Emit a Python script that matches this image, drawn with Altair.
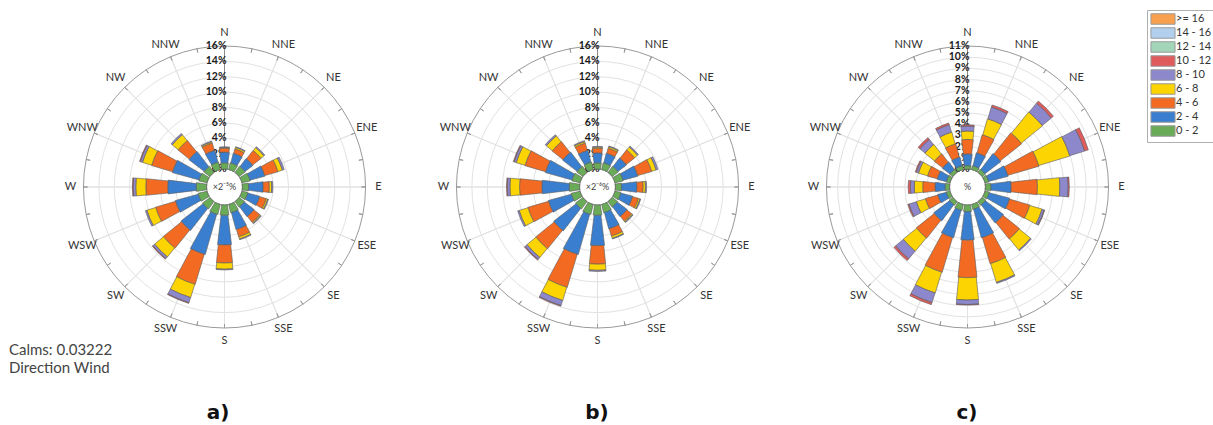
import math
import altair as alt
import pandas as pd

# ---- categories -------------------------------------------------------------
directions = ["N", "NNE", "NE", "ENE", "E", "ESE", "SE", "SSE",
              "S", "SSW", "SW", "WSW", "W", "WNW", "NW", "NNW"]
speed_classes = ["0 - 2", "2 - 4", "4 - 6", "6 - 8", "8 - 10",
                 "10 - 12", "12 - 14", "14 - 16", ">= 16"]
class_colors = ["#6aab58", "#3a7fcf", "#f36b22", "#fbd402", "#8d88cb",
                "#e05c5c", "#a3d6b8", "#b2d0ee", "#f9a04e"]

# ---- frequency (%) per direction, one list per speed class ------------------
a_0_2 = [0.8, 0.9, 1.0, 1.1, 0.8, 0.8, 0.9, 1.1, 1.35, 1.35, 1.2, 1.2, 1.35, 1.1, 1.0, 1.0]
a_2_4 = [1.4, 1.3, 1.3, 2.0, 1.9, 1.6, 1.6, 2.3, 3.85, 5.45, 3.65, 3.1, 3.7, 3.6, 2.5, 1.6]
a_4_6 = [0.5, 0.6, 1.4, 1.8, 0.8, 0.9, 1.0, 1.0, 2.35, 4.1, 3.05, 2.7, 2.85, 2.85, 1.9, 1.0]
a_6_8 = [0.1, 0.2, 0.5, 0.6, 0.3, 0.2, 0.15, 0.3, 0.8, 1.8, 1.5, 1.2, 1.3, 1.25, 1.0, 0.15]
a_8_10 = [0.1, 0.1, 0.15, 0.25, 0.15, 0.1, 0.1, 0.1, 0.1, 0.7, 0.3, 0.2, 0.35, 0.3, 0.2, 0.1]
a_10_12 = [0, 0, 0, 0, 0, 0, 0, 0, 0, 0.1, 0.1, 0, 0.1, 0.1, 0, 0]

b_0_2 = [0.8, 0.9, 1.0, 1.1, 0.8, 0.8, 0.9, 1.1, 1.35, 1.35, 1.2, 1.2, 1.35, 1.1, 1.0, 1.0]
b_2_4 = [1.3, 1.3, 1.4, 2.0, 2.0, 1.6, 1.6, 2.2, 3.95, 5.45, 3.7, 3.1, 3.55, 3.6, 2.4, 1.6]
b_4_6 = [0.6, 0.7, 1.4, 1.9, 0.8, 0.8, 0.8, 1.0, 2.4, 4.5, 3.1, 2.8, 2.9, 2.8, 1.8, 1.0]
b_6_8 = [0.15, 0.2, 0.5, 0.6, 0.3, 0.2, 0.15, 0.3, 0.8, 1.8, 1.5, 1.2, 1.25, 1.2, 1.0, 0.2]
b_8_10 = [0.1, 0.1, 0.15, 0.25, 0.15, 0.1, 0.1, 0.1, 0.15, 0.7, 0.35, 0.2, 0.35, 0.3, 0.2, 0.1]
b_10_12 = [0, 0, 0, 0, 0, 0, 0, 0, 0, 0.1, 0.1, 0, 0.1, 0.1, 0, 0]

c_0_2 = [0.3, 0.35, 0.35, 0.35, 0.5, 0.4, 0.4, 0.45, 0.6, 0.55, 0.4, 0.35, 0.4, 0.35, 0.35, 0.35]
c_2_4 = [1.05, 1.2, 1.8, 1.8, 1.8, 1.9, 2.05, 2.65, 2.55, 2.55, 1.8, 0.8, 0.9, 0.85, 0.85, 0.8]
c_4_6 = [1.3, 1.7, 2.45, 2.9, 2.35, 1.9, 1.9, 2.45, 3.35, 3.25, 2.05, 1.15, 1.1, 0.9, 0.95, 1.25]
c_6_8 = [0.75, 1.5, 2.45, 2.9, 2.0, 1.15, 1.3, 1.75, 2.0, 1.95, 1.55, 0.85, 0.75, 0.85, 1.1, 1.1]
c_8_10 = [0.45, 1.1, 1.05, 1.4, 0.75, 0.2, 0.1, 0.1, 0.4, 0.9, 0.9, 0.7, 0.35, 0.2, 0.6, 0.7]
c_10_12 = [0.1, 0.2, 0.25, 0.35, 0.1, 0.05, 0, 0, 0.05, 0.2, 0.2, 0.1, 0.2, 0.1, 0.2, 0.15]

# ---- radial tick labels -------------------------------------------------------
ticks_ab = [0, 2, 4, 6, 8, 10, 12, 14, 16]
ticks_c = [0, 1, 2, 3, 4, 5, 6, 7, 8, 9, 10, 11]

# ---- geometry -----------------------------------------------------------------
R_IN, R_OUT = 18, 141
CY = 187
TWO_PI = 2 * math.pi
FONT = "Lato"

theta_scale = alt.Scale(domain=[0, 360], range=[0, TWO_PI], nice=False, zero=False)
# every rose is drawn on a 0..1 share of its own full-scale percentage
radius_scale = alt.Scale(type="linear", domain=[0, 1], range=[R_IN, R_OUT],
                         nice=False, zero=False)

color_scale = alt.Scale(domain=speed_classes[::-1], range=class_colors[::-1])
legend = alt.Legend(
    title=None, orient="none", legendX=1147, legendY=10,
    symbolType="M-2.3,-1H2.3V1H-2.3Z", symbolSize=110,
    symbolStrokeColor="#9a9a9a", symbolStrokeWidth=1, symbolOpacity=1,
    symbolOffset=7, labelOffset=7, labelFont=FONT, labelFontSize=11,
    labelColor="#333333", strokeColor="#b0b0b0", fillColor="white",
    padding=3, rowPadding=-3.1, cornerRadius=0,
)

dir_angles = [i * 22.5 for i in range(16)]
tick_angles = [i * 11.25 for i in range(32)]


def bar_half_width(frac):
    """Half angular width (deg) of a wedge segment whose middle sits at frac of full scale.
    Wedges flare slightly near the hub, as in the classic wind-rose layout."""
    r = R_IN + frac * (R_OUT - R_IN)
    return math.degrees(0.08 * (1 + 22.0 / r))


def wind_rose(cx, vmax, ticks, series, center_text):
    cx_v, cy_v = alt.value(cx), alt.value(CY)
    norm = f"datum.v / {vmax}"
    layers = []

    # concentric grid circles
    grid = pd.DataFrame({"v": [t for t in ticks if 0 < t < vmax]})
    layers.append(
        alt.Chart(grid).transform_calculate(rn=norm)
        .mark_arc(fillOpacity=0, stroke="#e2e2e2", strokeWidth=1)
        .encode(x=cx_v, y=cy_v, theta=alt.value(0), theta2=alt.value(TWO_PI),
                radius=alt.Radius("rn:Q", scale=radius_scale, stack=False))
    )
    # radial spokes
    spokes = pd.DataFrame({"ang": dir_angles, "v0": 0, "v1": vmax})
    layers.append(
        alt.Chart(spokes).transform_calculate(r0=f"datum.v0 / {vmax}", r1=f"datum.v1 / {vmax}")
        .mark_arc(fillOpacity=0, stroke="#e2e2e2", strokeWidth=1)
        .encode(x=cx_v, y=cy_v,
                theta=alt.Theta("ang:Q", scale=theta_scale, stack=False),
                theta2="ang:Q",
                radius=alt.Radius("r1:Q", scale=radius_scale, stack=False),
                radius2="r0:Q")
    )
    # outer ring
    ring = pd.DataFrame({"v": [vmax]})
    layers.append(
        alt.Chart(ring).transform_calculate(rn=norm)
        .mark_arc(fillOpacity=0, stroke="#9a9a9a", strokeWidth=1)
        .encode(x=cx_v, y=cy_v, theta=alt.value(0), theta2=alt.value(TWO_PI),
                radius=alt.Radius("rn:Q", scale=radius_scale, stack=False))
    )
    # small ticks on the outer ring
    tks = pd.DataFrame({"ang": tick_angles})
    layers.append(
        alt.Chart(tks).mark_arc(fillOpacity=0, stroke="#9a9a9a", strokeWidth=1)
        .encode(x=cx_v, y=cy_v,
                theta=alt.Theta("ang:Q", scale=theta_scale, stack=False),
                theta2="ang:Q",
                radius=alt.value(R_OUT), radius2=alt.value(R_OUT - 4))
    )
    # radial axis line (north)
    axis = pd.DataFrame({"v0": [0], "v1": [vmax]})
    layers.append(
        alt.Chart(axis).transform_calculate(r0=f"datum.v0 / {vmax}", r1=f"datum.v1 / {vmax}")
        .mark_arc(fillOpacity=0, stroke="#8c8c8c", strokeWidth=1)
        .encode(x=cx_v, y=cy_v, theta=alt.value(0), theta2=alt.value(0),
                radius=alt.Radius("r1:Q", scale=radius_scale, stack=False),
                radius2="r0:Q")
    )
    # radial tick labels
    tl = pd.DataFrame({"v": ticks, "lab": [f"{t}%" for t in ticks]})
    layers.append(
        alt.Chart(tl).transform_calculate(rn=norm)
        .mark_text(align="right", baseline="middle", dx=2, font=FONT,
                   fontWeight="bold", fontSize=10.5, color="#1a1a1a")
        .encode(x=cx_v, y=cy_v, theta=alt.value(0),
                radius=alt.Radius("rn:Q", scale=radius_scale, stack=False),
                text="lab:N")
    )
    # compass labels
    dl = pd.DataFrame({"ang": dir_angles, "name": directions})
    layers.append(
        alt.Chart(dl).mark_text(align="center", baseline="middle", font=FONT,
                                fontSize=11, color="#333333")
        .encode(x=cx_v, y=cy_v,
                theta=alt.Theta("ang:Q", scale=theta_scale, stack=False),
                radius=alt.value(154), text="name:N")
    )
    # stacked bars
    rows = []
    for i, ang in enumerate(dir_angles):
        acc = 0.0
        for cls, values in zip(speed_classes, series):
            v = values[i]
            if v > 0:
                hw = bar_half_width((acc + v / 2) / vmax)
                rows.append({"dir": directions[i], "cls": cls,
                             "lo": ang - hw, "hi": ang + hw,
                             "start": acc / vmax, "end": (acc + v) / vmax,
                             "pct": v})
            acc += v
    bars = pd.DataFrame(rows)
    layers.append(
        alt.Chart(bars).mark_arc(stroke="#5a5a5a", strokeWidth=0.6)
        .encode(x=cx_v, y=cy_v,
                theta=alt.Theta("lo:Q", scale=theta_scale, stack=False),
                theta2="hi:Q",
                radius=alt.Radius("end:Q", scale=radius_scale, stack=False),
                radius2="start:Q",
                color=alt.Color("cls:N", scale=color_scale, legend=legend))
    )
    # centre unit label
    ct = pd.DataFrame({"t": [center_text]})
    layers.append(
        alt.Chart(ct).mark_text(align="center", baseline="middle", font=FONT,
                                fontSize=9, color="#444444")
        .encode(x=cx_v, y=cy_v, text="t:N")
    )
    return layers


layers = []
layers += wind_rose(224.5, 16, ticks_ab, [a_0_2, a_2_4, a_4_6, a_6_8, a_8_10, a_10_12], "×2⁻⁵%")
layers += wind_rose(597.5, 16, ticks_ab, [b_0_2, b_2_4, b_4_6, b_6_8, b_8_10, b_10_12], "×2⁻⁶%")
layers += wind_rose(967.5, 11, ticks_c, [c_0_2, c_2_4, c_4_6, c_6_8, c_8_10, c_10_12], "%")

# panel letters
for letter, px in zip(["a)", "b)", "c)"], [218, 597, 967]):
    layers.append(
        alt.Chart(pd.DataFrame({"t": [letter]}))
        .mark_text(align="center", baseline="alphabetic", font="DejaVu Sans",
                   fontWeight="bold", fontSize=20, color="#111111")
        .encode(x=alt.value(px), y=alt.value(419), text="t:N")
    )

# notes in the lower-left corner
notes = ["Calms: 0.03222", "Direction Wind"]
for k, note in enumerate(notes):
    layers.append(
        alt.Chart(pd.DataFrame({"t": [note]}))
        .mark_text(align="left", baseline="alphabetic", font=FONT,
                   fontSize=15, color="#444444")
        .encode(x=alt.value(9), y=alt.value(355 + 18 * k), text="t:N")
    )

chart = (
    alt.layer(*layers)
    .properties(width=1213, height=425,
                autosize=alt.AutoSizeParams(type="none"), padding=0)
    .configure_view(strokeWidth=0)
)

chart.save("out.html", embed_options={"renderer": "svg", "actions": False})
